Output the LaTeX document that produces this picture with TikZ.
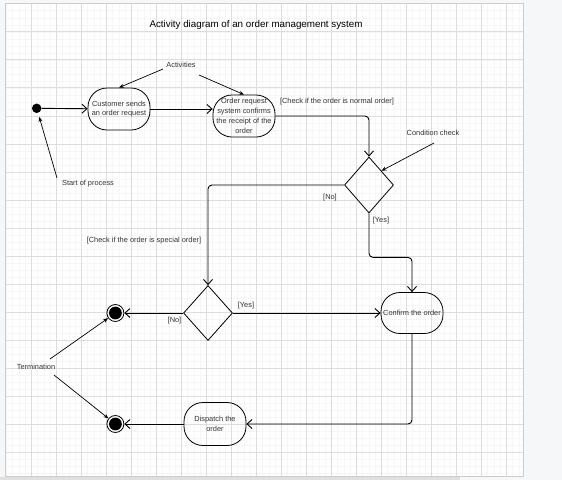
\documentclass[tikz,border=0pt]{standalone}
\usepackage{fontspec}
\setmainfont{Liberation Sans}
\usetikzlibrary{shapes.geometric,arrows.meta}

\definecolor{gridmajor}{HTML}{DDDDDD}
\definecolor{gridminor}{HTML}{F6F6F6}
\definecolor{pagebg}{HTML}{F6F7F9}
\definecolor{textgray}{HTML}{333333}

\tikzset{
  activity/.style={draw, rounded corners=19pt, minimum width=62pt, minimum height=42pt,
    inner sep=0pt, align=center, font=\fontsize{7.4}{9.8}\selectfont, text=textgray, line width=0.8pt},
  decision/.style={draw, diamond, inner sep=0pt, minimum width=49pt, minimum height=56pt, line width=0.8pt},
  startstate/.style={circle, fill=black, minimum size=9.5pt, inner sep=0pt},
  endstate/.style={circle, draw, line width=0.8pt, minimum size=17pt, inner sep=0pt,
    path picture={\fill (path picture bounding box.center) circle (6.4pt);}},
  lbl/.style={font=\fontsize{7.4}{9}\selectfont, text=textgray, inner sep=1pt},
  flow/.style={line width=0.9pt, -{Straight Barb[length=5pt,width=9pt]}, rounded corners=4pt},
  pointer/.style={line width=0.7pt, -{Stealth[length=5pt,width=4pt]}},
}

\begin{document}
\begin{tikzpicture}[x=1pt, y=-1pt]

	% page and grid

	\fill[pagebg] (0,0) rectangle (562,480);
	\fill[white] (5.5,3) rectangle (523,476);
	\foreach \i in {0,...,82} \draw[gridminor, line width=0.35pt] ({6.4+6.25*\i},3) -- ({6.4+6.25*\i},476);
	\foreach \j in {0,...,67} \draw[gridminor, line width=0.35pt] (5.5,{3.66+7.01*\j}) -- (523,{3.66+7.01*\j});
	\foreach \i in {1,...,20} \draw[gridmajor, line width=0.6pt] ({6.4+25*\i},3) -- ({6.4+25*\i},476);
	\foreach \j in {1,...,16} \draw[gridmajor, line width=0.6pt] (5.5,{3.66+28.04*\j}) -- (523,{3.66+28.04*\j});
	\draw[black!20] (5.5,3) rectangle (523,476);
	\fill[black!12] (0,477) rectangle (460,480);

	\useasboundingbox (0,0) rectangle (562,480);

	% title

	\node[lbl, text=black, font=\fontsize{9.8}{12}\selectfont] (title) at (256,25) {Activity diagram of an order management system};

	% states and activities

	\node[startstate] (start) at (36.7,108.3) {};
	\node[activity] (send) at (119,109) {Customer sends\\an order request};
	\node[activity] (confirmreq) at (244,116) {Order request\\system confirms\\the receipt of the\\order};
	\node[decision] (normal) at (369,185) {};
	\node[decision, minimum height=55pt] (special) at (208,313) {};
	\node[activity, minimum height=41pt] (confirm) at (412,313) {Confirm the order};
	\node[activity, minimum height=43pt] (dispatch) at (215,424) {Dispatch the\\order};
	\node[endstate] (end1) at (115.4,313) {};
	\node[endstate] (end2) at (115.4,424) {};

	% labels

	\node[lbl] (activities) at (181,65) {Activities};
	\node[lbl] (checknormal) at (337,102) {[Check if the order is normal order]};
	\node[lbl] (condcheck) at (433,133) {Condition check};
	\node[lbl] (startproc) at (88,184) {Start of process};
	\node[lbl] (no1) at (330,198) {[No]};
	\node[lbl] (yes1) at (381,221) {[Yes]};
	\node[lbl] (checkspecial) at (144,241) {[Check if the order is special order]};
	\node[lbl] (yes2) at (246,306) {[Yes]};
	\node[lbl] (no2) at (174.5,321) {[No]};
	\node[lbl] (term) at (36,367) {Termination};

	% define point

	\coordinate (A1) at (163,69);
	\coordinate (A2) at (199,75);
	\coordinate (C1) at (434,143);
	\coordinate (S1) at (57,178);
	\coordinate (T1) at (50,359);
	\coordinate (T2) at (54,375);

	% pointers

	\draw[pointer] (A1) -- (send.north);
	\draw[pointer] (A2) -- (confirmreq.north);
	\draw[pointer] (C1) -- (normal.north east);
	\draw[pointer, shorten >=4pt] (S1) -- (start);
	\draw[pointer] (T1) -- (end1);
	\draw[pointer] (T2) -- (end2);

	% flow

	\draw[flow] (start) -- (send);
	\draw[flow] (send.east) -- (send.east -| confirmreq.west);
	\draw[flow] (confirmreq.east) -| (normal.north);
	\draw[flow] (normal.west) -| (special.north);
	\draw[flow] (normal.south) -- ++(0,44) -| (confirm.north);
	\draw[flow] (special.east) -- (confirm.west);
	\draw[flow] (special.west) -- (end1);
	\draw[flow] (confirm.south) |- (dispatch.east);
	\draw[flow] (dispatch.west) -- (end2);

\end{tikzpicture}
\end{document}
